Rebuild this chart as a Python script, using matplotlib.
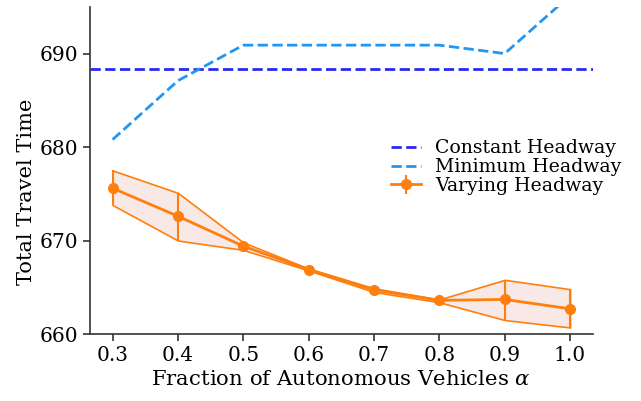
import matplotlib
matplotlib.use("Agg")
import matplotlib.pyplot as plt
import numpy as np

alpha = [0.3, 0.4, 0.5, 0.6, 0.7, 0.8, 0.9, 1.0]
constant_headway = 688.4
minimum_headway = [680.8, 687.1, 690.9, 690.9, 690.9, 690.9, 690.0, 696.2]
varying_mean = [675.6, 672.6, 669.4, 666.9, 664.7, 663.6, 663.7, 662.7]
varying_upper = [677.5, 675.1, 669.8, 667.0, 664.9, 663.7, 665.8, 664.8]
varying_lower = [673.8, 670.0, 669.0, 666.8, 664.5, 663.4, 661.5, 660.7]

plt.rcParams['font.family'] = ['DejaVu Serif']
plt.rcParams['mathtext.fontset'] = 'dejavuserif'

fig, ax = plt.subplots(figsize=(6.41, 4.01), dpi=100)
fig.subplots_adjust(left=0.14, right=0.925, top=0.983, bottom=0.167)

orange = '#ff7f0e'
ax.axhline(constant_headway, color='#2a2aee', ls='--', lw=2, label='Constant Headway')
ax.plot(alpha, minimum_headway, color='#2196f3', ls='--', lw=2, label='Minimum Headway')

x = np.array(alpha)
m = np.array(varying_mean)
up = np.array(varying_upper)
lo = np.array(varying_lower)
ax.fill_between(x, lo, up, facecolor='#f8e9e7', edgecolor=orange, lw=1.2)
ax.errorbar(x, m, yerr=[m - lo, up - m], color=orange, lw=2, marker='o', ms=7,
            elinewidth=1.5, capsize=0, label='Varying Headway')

ax.set_xlim(0.265, 1.035)
ax.set_ylim(660, 695)
ax.set_xticks(alpha)
ax.set_xticklabels([f"{v:.1f}" for v in alpha])
ax.set_yticks([660, 670, 680, 690])
ax.spines['top'].set_visible(False)
ax.spines['right'].set_visible(False)
for s in ['left', 'bottom']:
    ax.spines[s].set_color('#333333')
    ax.spines[s].set_linewidth(1.2)
ax.tick_params(labelsize=14.5, color='#333333', length=5, width=1.2)
ax.set_xlabel(r'Fraction of Autonomous Vehicles $\alpha$', fontsize=15.3)
ax.set_ylabel('Total Travel Time', fontsize=15)
ax.yaxis.set_label_coords(-0.107, 0.434)

ax.legend(loc='center right', bbox_to_anchor=(1.091, 0.51), frameon=False, fontsize=13.6,
          handlelength=1.6, labelspacing=0.05, handletextpad=0.75)

fig.savefig('out.png', dpi=100)
